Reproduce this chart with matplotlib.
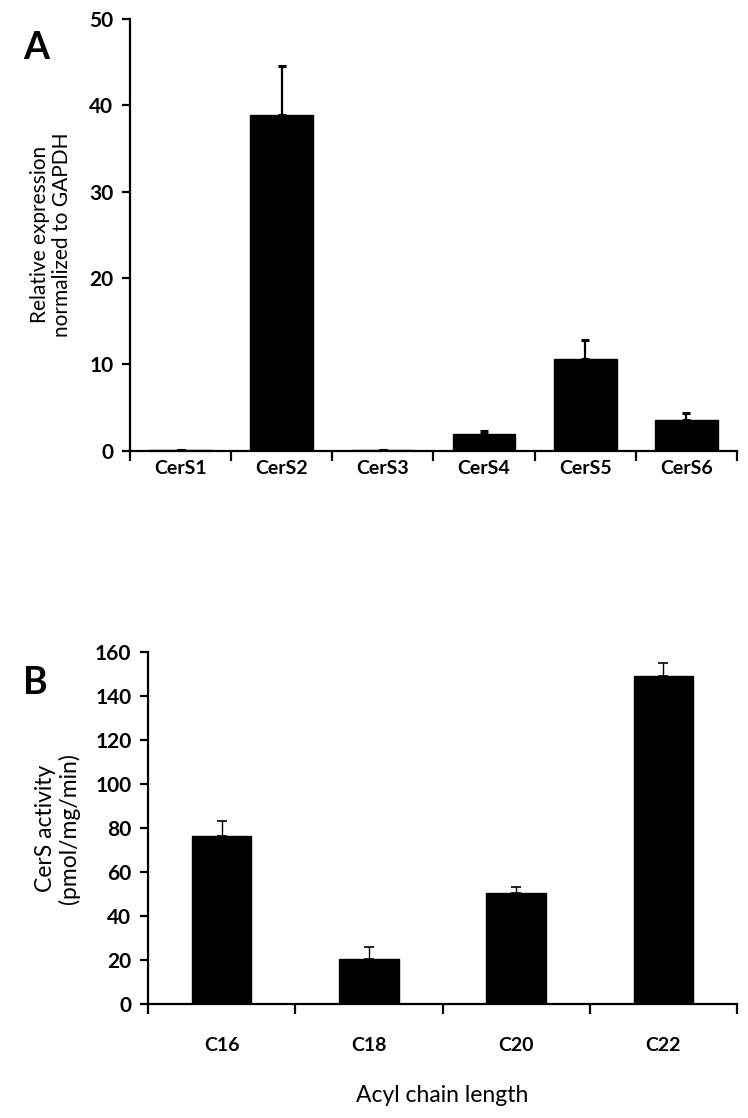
import matplotlib
matplotlib.use("Agg")
import matplotlib.pyplot as plt
import numpy as np

plt.rcParams['font.family'] = ['Lato', 'DejaVu Sans']

# Panel A data
genes = ["CerS1", "CerS2", "CerS3", "CerS4", "CerS5", "CerS6"]
expr = [0.12, 38.9, 0.12, 1.95, 10.6, 3.55]
expr_err = [0.0, 5.6, 0.0, 0.32, 2.25, 0.85]

# Panel B data
chains = ["C16", "C18", "C20", "C22"]
activity = [76.3, 20.6, 50.4, 149.2]
activity_err = [6.8, 5.2, 3.0, 5.9]

fig = plt.figure(figsize=(7.48, 11.18), dpi=100)

def style(ax, n, xpad):
    for s in ("top", "right"):
        ax.spines[s].set_visible(False)
    for s in ("left", "bottom"):
        ax.spines[s].set_linewidth(1.6)
    ax.set_xlim(-0.5, n - 0.5)
    ax.set_xticks(np.arange(n))
    ax.set_xticks(np.arange(n + 1) - 0.5, minor=True)
    ax.tick_params(axis='x', which='major', length=0, pad=xpad, labelsize=14)
    ax.tick_params(axis='x', which='minor', length=7, width=1.6, direction='out')
    ax.tick_params(axis='y', length=6, width=1.6, direction='out', labelsize=15, pad=6)
    for lab in ax.get_xticklabels() + ax.get_yticklabels():
        lab.set_fontweight('bold')

# Panel A
axA = fig.add_axes([130/748, 1-450.7/1118, (737-130)/748, (450.7-19)/1118])
x = np.arange(len(genes))
axA.bar(x, expr, width=0.62, color='black', edgecolor='black', zorder=2)
axA.errorbar(x, expr, yerr=[np.zeros(len(expr)), expr_err], fmt='none',
             ecolor='black', elinewidth=1.6, capsize=3.2, capthick=2.2, zorder=1)
axA.set_ylim(0, 50)
axA.set_yticks([0, 10, 20, 30, 40, 50])
axA.set_xticklabels(genes)
style(axA, len(genes), 7)
axA.set_ylabel("Relative expression\nnormalized to GAPDH", fontsize=15, labelpad=12,
               linespacing=1.15)
fig.text(23/748, 1-48/1118, "A", fontsize=27, fontweight='bold', va='center')

# Panel B
axB = fig.add_axes([148/748, 1-1004/1118, (737-148)/748, (1004-652.3)/1118])
xb = np.arange(len(chains))
axB.bar(xb, activity, width=0.405, color='black', edgecolor='black', zorder=2)
axB.errorbar(xb, activity, yerr=[np.zeros(len(activity)), activity_err], fmt='none',
             ecolor='black', elinewidth=1.0, capsize=3.6, capthick=1.2, zorder=1)
axB.set_ylim(0, 160)
axB.set_yticks(np.arange(0, 161, 20))
axB.set_xticklabels(chains)
style(axB, len(chains), 24)
axB.set_ylabel("CerS activity\n(pmol/mg/min)", fontsize=16.5, labelpad=11, linespacing=1.1)
axB.set_xlabel("Acyl chain length", fontsize=16.5, labelpad=22)
fig.text(23/748, 1-683/1118, "B", fontsize=27, fontweight='bold', va='center')

fig.savefig("out.png", dpi=100)
